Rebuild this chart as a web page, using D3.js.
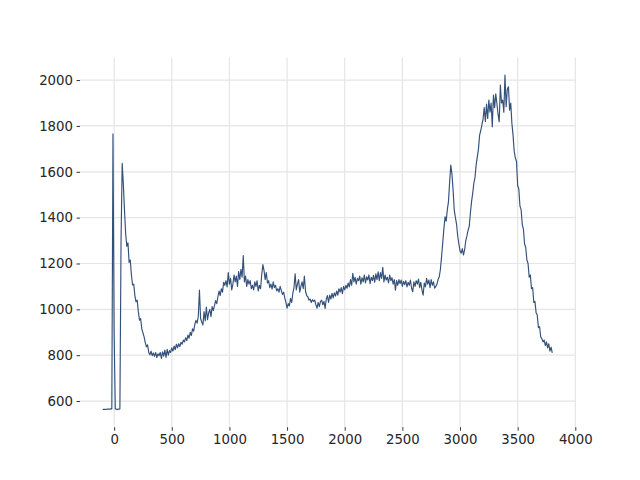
<!DOCTYPE html>
<html>
<head>
<meta charset="utf-8">
<script src="https://cdn.jsdelivr.net/npm/d3@7"></script>
<style>
  body { margin: 0; background: #fff; }
  svg { display: block; }
  .tick text { font-family: "DejaVu Sans", sans-serif; font-size: 13.3px; fill: #262626; }
</style>
</head>
<body>
<svg id="chart" width="640" height="480"></svg>
<script>
// signal sampled every 10 units starting at -100
const xStart = -100;
const xStep = 10;
const values = [
  563, 564, 564, 563, 565, 565, 565, 566, 566, 1765,
  900, 566, 564, 564, 565, 566, 1300, 1637, 1545, 1430,
  1330, 1275, 1290, 1205, 1215, 1150, 1106, 1110, 1060, 1033,
  1040, 990, 953, 960, 915, 897, 880, 855, 837, 845,
  812, 802, 818, 798, 810, 795, 812, 790, 806, 798,
  812, 786, 815, 796, 822, 790, 826, 800, 820, 812,
  832, 818, 840, 824, 848, 832, 850, 838, 856, 848,
  866, 858, 876, 864, 888, 874, 900, 886, 915, 905,
  935, 952, 940, 970, 1084, 960, 945, 932, 990, 950,
  1010, 955, 985, 1000, 968, 1012, 995, 1015, 1038, 1025,
  1055, 1080, 1060, 1090, 1075, 1118, 1105, 1125, 1098, 1160,
  1110, 1135, 1085, 1110, 1150, 1120, 1145, 1100, 1165, 1130,
  1175, 1140, 1235, 1120, 1145, 1100, 1130, 1110, 1125, 1090,
  1105, 1085, 1120, 1100, 1125, 1080, 1105, 1090, 1150, 1195,
  1170, 1130, 1160, 1115, 1125, 1095, 1110, 1088, 1120, 1095,
  1105, 1080, 1090, 1075, 1100, 1082, 1065, 1075, 1050, 1030,
  1005, 1025, 1015, 1048, 1030, 1070, 1095, 1155, 1085, 1110,
  1130, 1075, 1100, 1120, 1090, 1145, 1080, 1060, 1055, 1040,
  1045, 1030, 1042, 1035, 1040, 1020, 1005, 1030, 1012, 1035,
  1040, 1020, 1035, 1004, 1045, 1060, 1030, 1062, 1045, 1070,
  1050, 1072, 1058, 1080, 1062, 1090, 1075, 1095, 1068, 1100,
  1085, 1105, 1092, 1115, 1098, 1130, 1105, 1157, 1120, 1140,
  1110, 1135, 1125, 1145, 1110, 1138, 1120, 1150, 1115, 1142,
  1128, 1150, 1112, 1140, 1125, 1148, 1118, 1155, 1130, 1164,
  1125, 1160, 1135, 1183, 1120, 1150, 1128, 1140, 1115, 1150,
  1125, 1138, 1110, 1130, 1084, 1125, 1105, 1130, 1112, 1128,
  1100, 1122, 1108, 1125, 1098, 1118, 1105, 1128, 1092, 1077,
  1120, 1100, 1125, 1110, 1132, 1095, 1118, 1085, 1062, 1115,
  1098, 1135, 1110, 1128, 1095, 1130, 1105, 1120, 1092, 1100,
  1110, 1130, 1142, 1175, 1230, 1290, 1350, 1404, 1385, 1435,
  1470, 1555, 1629, 1590, 1520, 1433, 1400, 1372, 1320, 1285,
  1255, 1245, 1265, 1237, 1260, 1300, 1320, 1345, 1362, 1420,
  1470, 1506, 1550, 1575, 1630, 1665, 1700, 1760, 1780, 1805,
  1830, 1880, 1820, 1895, 1833, 1913, 1860, 1900, 1796, 1935,
  1880, 1940, 1898, 1850, 1818, 1978, 1900, 1913, 1860, 2022,
  1884, 1960, 1971, 1869, 1900, 1811, 1760, 1690, 1660, 1645,
  1540, 1525, 1450, 1435, 1370, 1350, 1285, 1270, 1215, 1200,
  1140, 1150, 1090, 1095, 1030, 1035, 985, 975, 920, 925,
  880, 872, 858, 866, 842, 858, 832, 850, 818, 835,
  810
];
const xTicks = [0, 500, 1000, 1500, 2000, 2500, 3000, 3500, 4000];
const yTicks = [600, 800, 1000, 1200, 1400, 1600, 1800, 2000];
const xDomain = [-296, 4006];
const yDomain = [486, 2098];

const data = values.map((v, i) => ({ x: xStart + i * xStep, y: v }));

const svg = d3.select('#chart');
const margin = { left: 80, right: 64, top: 57.6, bottom: 52.8 };
const width = 640 - margin.left - margin.right;
const height = 480 - margin.top - margin.bottom;

const xScale = d3.scaleLinear().domain(xDomain).range([0, width]);
const yScale = d3.scaleLinear().domain(yDomain).range([height, 0]);

const g = svg.append('g')
  .attr('transform', `translate(${margin.left},${margin.top})`);

// grid
g.append('g').selectAll('line').data(xTicks).join('line')
  .attr('x1', d => xScale(d)).attr('x2', d => xScale(d))
  .attr('y1', 0).attr('y2', height)
  .attr('stroke', '#e5e5e5').attr('stroke-width', 1.2);
g.append('g').selectAll('line').data(yTicks).join('line')
  .attr('y1', d => yScale(d)).attr('y2', d => yScale(d))
  .attr('x1', 0).attr('x2', width)
  .attr('stroke', '#e5e5e5').attr('stroke-width', 1.2);

const fmt = d3.format('d');
const xAxis = d3.axisBottom(xScale).tickValues(xTicks).tickFormat(fmt).tickSize(3.5).tickPadding(3.5);
const yAxis = d3.axisLeft(yScale).tickValues(yTicks).tickFormat(fmt).tickSize(3.5).tickPadding(3.5);

g.append('g')
  .attr('transform', `translate(0,${height})`)
  .call(xAxis)
  .call(a => a.select('.domain').remove())
  .call(a => a.selectAll('.tick line').attr('stroke', '#333'));

g.append('g')
  .call(yAxis)
  .call(a => a.select('.domain').remove())
  .call(a => a.selectAll('.tick line').attr('stroke', '#333'));

const line = d3.line()
  .x(d => xScale(d.x))
  .y(d => yScale(d.y));

g.append('path')
  .datum(data)
  .attr('fill', 'none')
  .attr('stroke', '#33507a')
  .attr('stroke-width', 1.15)
  .attr('stroke-linejoin', 'round')
  .attr('d', line);
</script>
</body>
</html>
